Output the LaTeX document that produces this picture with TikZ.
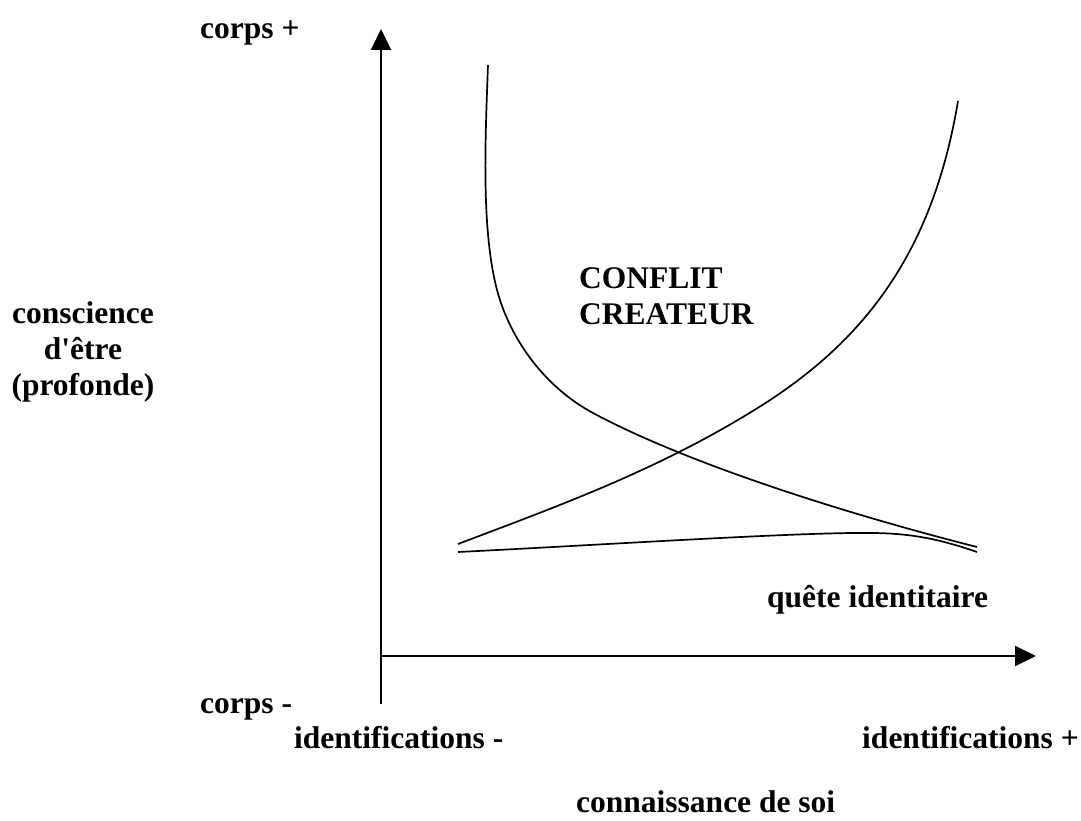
\documentclass[tikz,border=0pt]{standalone}
\usepackage{fontspec}
\setmainfont{Liberation Serif}
\usetikzlibrary{arrows.meta}
\begin{document}
\begin{tikzpicture}[x=1pt,y=-1pt,
  lbl/.style={font=\fontsize{31.5}{36}\selectfont\bfseries, inner sep=0pt},
  axis/.style={line width=2pt, -{Triangle[length=21pt,width=20pt]}},
  crv/.style={line width=1.7pt}]
\useasboundingbox (0,0) rectangle (1081,821);
% axes
\coordinate (ybot) at (381,704);
\coordinate (ytop) at (381,29);
\coordinate (xleft) at (381,656);
\coordinate (xright) at (1036,656);
\draw[axis] (ybot) -- (ytop);
\draw[axis] (xleft) -- (xright);
% curve 1 (falling)
\coordinate (c1a) at (488,65);
\coordinate (c1b) at (499,297);
\coordinate (c1c) at (593,413);
\coordinate (c1d) at (977,547);
\draw[crv] (c1a) .. controls (485,145) and (481,237) .. (c1b)
  .. controls (513,342) and (545,387) .. (c1c)
  .. controls (688,464) and (847,514) .. (c1d);
% curve 2 (rising)
\coordinate (c2a) at (458,544);
\coordinate (c2b) at (756,409);
\coordinate (c2c) at (958,101);
\draw[crv] (c2a) .. controls (558,506) and (656,471) .. (c2b)
  .. controls (866,341) and (933,251) .. (c2c);
% curve 3 (bottom)
\coordinate (c3a) at (458,552);
\coordinate (c3b) at (870,533);
\coordinate (c3c) at (977,552);
\draw[crv] (c3a) .. controls (600,545) and (800,532) .. (c3b)
  .. controls (915,533) and (945,541) .. (c3c);
% labels
\node[lbl, anchor=base west] (cplus) at (200,39) {corps +};
\node[lbl, anchor=base] (consc1) at (83,323) {conscience};
\node[lbl, anchor=base] (consc2) at (83,359) {d\textquotesingle être};
\node[lbl, anchor=base] (consc3) at (83,395) {(profonde)};
\node[lbl, anchor=base west] (conflit1) at (579,288) {CONFLIT};
\node[lbl, anchor=base west] (conflit2) at (579,324) {CREATEUR};
\node[lbl, anchor=base west] (quete) at (767,607) {quête identitaire};
\node[lbl, anchor=base west] (cmoins) at (200,713) {corps -};
\node[lbl, anchor=base west] (idm) at (294,748) {identifications -};
\node[lbl, anchor=base east] (idp) at (1079,748) {identifications +};
\node[lbl, anchor=base west] (conn) at (576,812) {connaissance de soi};
\end{tikzpicture}
\end{document}
